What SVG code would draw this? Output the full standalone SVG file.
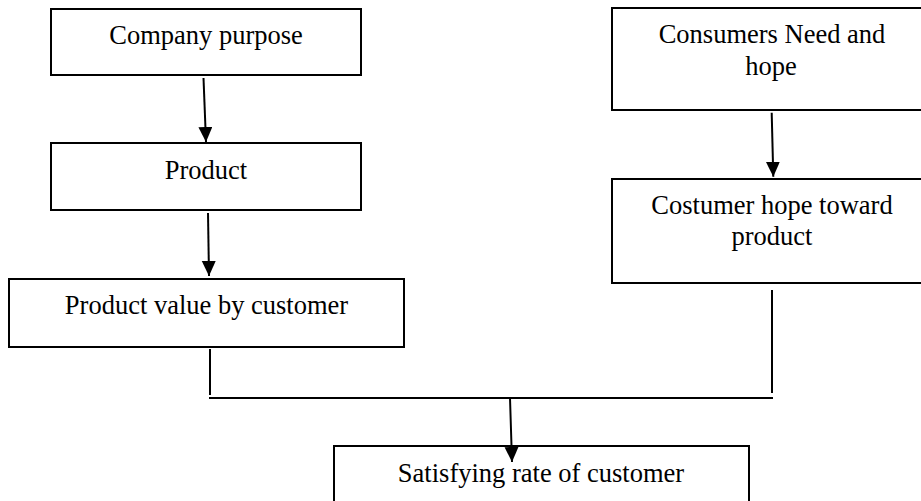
<svg xmlns="http://www.w3.org/2000/svg" width="921" height="501" viewBox="0 0 921 501">
<style>
.box{fill:#fff;stroke:#000;stroke-width:2}
.lbl{font-family:"Liberation Serif","Times New Roman",serif;font-size:26.5px;fill:#000;text-anchor:middle}
.con{stroke:#000;stroke-width:2;fill:none}
.arr{marker-end:url(#ah)}
</style>
<defs>
<marker id="ah" markerUnits="userSpaceOnUse" markerWidth="16" markerHeight="15" refX="15" refY="7" orient="auto">
<path d="M0,0 L15,7 L0,14 z" fill="#000"/>
</marker>
</defs>
<rect width="921" height="501" fill="#fff"/>
<g id="n-company">
<rect class="box" x="51" y="9" width="310" height="66"/>
<text class="lbl" x="206" y="44">Company purpose</text>
</g>
<g id="n-product">
<rect class="box" x="51" y="143" width="310" height="67"/>
<text class="lbl" x="206" y="179">Product</text>
</g>
<g id="n-value">
<rect class="box" x="9" y="279" width="395" height="68"/>
<text class="lbl" x="206.5" y="314">Product value by customer</text>
</g>
<g id="n-need">
<rect class="box" x="612" y="8" width="330" height="102"/>
<text class="lbl" x="772" y="43">Consumers Need and</text>
<text class="lbl" x="771" y="75">hope</text>
</g>
<g id="n-hope">
<rect class="box" x="612" y="179" width="330" height="104"/>
<text class="lbl" x="772" y="214">Costumer hope toward</text>
<text class="lbl" x="772" y="245">product</text>
</g>
<g id="n-satisfy">
<rect class="box" x="334" y="446" width="415" height="70"/>
<text class="lbl" x="541" y="482">Satisfying rate of customer</text>
</g>
<g id="connectors">
<line class="con arr" x1="203.5" y1="78" x2="206" y2="142"/>
<line class="con arr" x1="208" y1="213" x2="209" y2="276"/>
<line class="con arr" x1="771.7" y1="112.7" x2="773.3" y2="176.7"/>
<line class="con" x1="210" y1="349" x2="210" y2="395"/>
<line class="con" x1="772" y1="290" x2="772" y2="393"/>
<line class="con" x1="209" y1="398" x2="773" y2="398"/>
<line class="con arr" x1="510" y1="398" x2="512" y2="462"/>
</g>
</svg>
